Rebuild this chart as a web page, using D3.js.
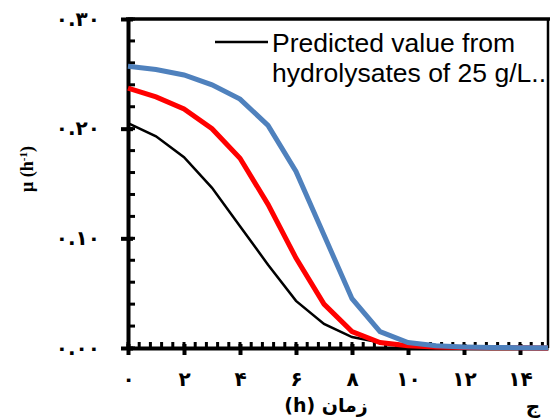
<!DOCTYPE html>
<html lang="fa">
<head>
<meta charset="UTF-8">
<script src="https://d3js.org/d3.v7.min.js"></script>
<style>
  body { margin: 0; background: #fff; }
  svg { display: block; }
</style>
</head>
<body>
<script>
  // data
  let hours = [0, 1, 2, 3, 4, 5, 6, 7, 8, 9, 10, 11, 12, 13, 14, 15]
  let blueMu  = [0.257, 0.254, 0.249, 0.240, 0.227, 0.203, 0.161, 0.103, 0.045, 0.015, 0.005, 0.002, 0.001, 0.0005, 0.0003, 0.0002]
  let redMu   = [0.237, 0.229, 0.218, 0.200, 0.173, 0.131, 0.082, 0.040, 0.015, 0.005, 0.002, 0.001, 0.0005, 0.0003, 0.0002, 0.0001]
  let blackMu = [0.205, 0.193, 0.174, 0.146, 0.111, 0.076, 0.043, 0.022, 0.010, 0.005, 0.002, 0.001, 0.0005, 0.0003, 0.0002, 0.0001]
  let xTicks = [0, 2, 4, 6, 8, 10, 12, 14]
  let yTicks = [0, 0.1, 0.2, 0.3]
  let legendLines = ["Predicted value from", "hydrolysates of 25 g/L..."]

  let width = 552, height = 419
  let mLeft = 128, mRight = 548, mTop = 19, mBottom = 348

  // persian digits for labels
  const fa = s => String(s).replace(/[0-9]/g, d => "۰۱۲۳۴۵۶۷۸۹"[d])

  let svg = d3.select("body").append("svg")
    .attr("width", width).attr("height", height)

  let x = d3.scaleLinear().domain([0, 15]).range([mLeft, mRight])
  let y = d3.scaleLinear().domain([0, 0.3]).range([mBottom, mTop])

  // minor ticks (inside)
  let xMinor = d3.range(0, 15.01, 0.4)
  svg.append("g").selectAll("line").data(xMinor).enter().append("line")
    .attr("x1", d => x(d)).attr("x2", d => x(d))
    .attr("y1", mBottom).attr("y2", mBottom - 6)
    .attr("stroke", "#000").attr("stroke-width", 3)
  let yMinor = d3.range(0, 0.301, 0.02)
  svg.append("g").selectAll("line").data(yMinor).enter().append("line")
    .attr("x1", mLeft).attr("x2", mLeft + 7)
    .attr("y1", d => y(d)).attr("y2", d => y(d))
    .attr("stroke", "#000").attr("stroke-width", 3)

  // axes with D3
  let xAxis = svg.append("g").attr("transform", `translate(0,${mBottom})`)
    .call(d3.axisBottom(x).tickValues(xTicks).tickSize(7).tickSizeOuter(0).tickFormat(d => fa(d)))
  xAxis.select(".domain").attr("stroke-width", 4)
  xAxis.selectAll(".tick line").attr("stroke-width", 4).attr("y1", -4)
  xAxis.selectAll(".tick text").attr("dy", 0).attr("y", 38)
    .style("font-family", "DejaVu Sans").style("font-weight", "bold").style("font-size", "20px")

  let yAxis = svg.append("g").attr("transform", `translate(${mLeft},0)`)
    .call(d3.axisLeft(y).tickValues(yTicks).tickSize(7).tickSizeOuter(0).tickFormat(d => fa(d.toFixed(2))))
  yAxis.select(".domain").attr("stroke-width", 4)
  yAxis.selectAll(".tick line").attr("stroke-width", 4).attr("x1", 5).attr("x2", -7)
  yAxis.selectAll(".tick text").attr("x", -28).attr("dy", "0.3em")
    .style("font-family", "DejaVu Sans").style("font-weight", "bold").style("font-size", "20px")
    .style("letter-spacing", "2px")

  // frame top/right
  svg.append("line").attr("x1", mLeft - 2).attr("x2", mRight + 2).attr("y1", mTop).attr("y2", mTop)
    .attr("stroke", "#000").attr("stroke-width", 3.5)
  svg.append("line").attr("x1", mRight).attr("x2", mRight).attr("y1", mTop).attr("y2", mBottom)
    .attr("stroke", "#000").attr("stroke-width", 2.5)

  // curves
  let line = d3.line().x((d, i) => x(hours[i])).y(d => y(d))
  svg.append("path").datum(blackMu).attr("d", line)
    .attr("fill", "none").attr("stroke", "#000").attr("stroke-width", 2.5)
  svg.append("path").datum(redMu).attr("d", line)
    .attr("fill", "none").attr("stroke", "#ff0000").attr("stroke-width", 5)
  svg.append("path").datum(blueMu).attr("d", line)
    .attr("fill", "none").attr("stroke", "#4f81bd").attr("stroke-width", 5)

  // legend
  svg.append("clipPath").attr("id", "clip").append("rect")
    .attr("x", mLeft).attr("y", mTop).attr("width", mRight - mLeft - 1).attr("height", mBottom - mTop)
  let leg = svg.append("g").attr("clip-path", "url(#clip)")
  leg.append("line").attr("x1", 215).attr("x2", 268).attr("y1", 42).attr("y2", 42)
    .attr("stroke", "#000").attr("stroke-width", 2.5)
  leg.selectAll("text").data(legendLines).enter().append("text")
    .attr("x", 272).attr("y", (d, i) => 52 + i * 30)
    .style("font-family", "Liberation Sans, Arial").style("font-size", "26.5px")
    .text(d => d)

  // axis titles
  svg.append("text").attr("x", 326).attr("y", 412).attr("text-anchor", "middle")
    .style("font-family", "DejaVu Sans").style("font-weight", "bold").style("font-size", "19px")
    .text("(h) زمان")
  svg.append("text").attr("x", 533).attr("y", 413).attr("text-anchor", "middle")
    .style("font-family", "DejaVu Sans").style("font-weight", "bold").style("font-size", "20px")
    .text("ج")
  let yt = svg.append("text").attr("transform", "translate(33,169) rotate(-90)")
    .attr("text-anchor", "middle")
    .style("font-family", "Liberation Serif, Times New Roman").style("font-weight", "bold").style("font-size", "18px")
  yt.append("tspan").text("μ (h")
  yt.append("tspan").attr("dy", -6).style("font-size", "11px").text("-1")
  yt.append("tspan").attr("dy", 6).text(")")
</script>
</body>
</html>
